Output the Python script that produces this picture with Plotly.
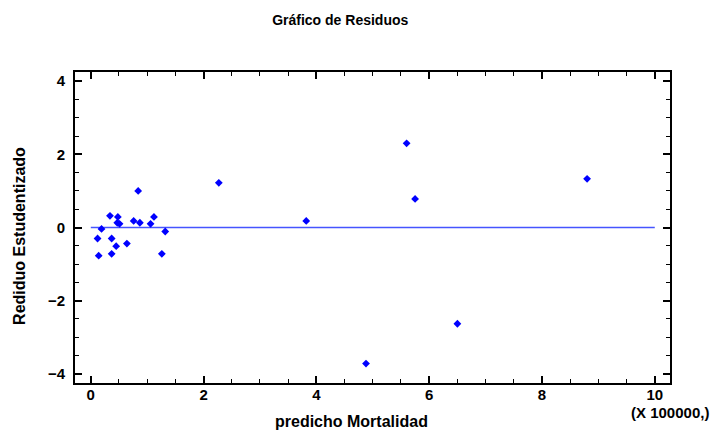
import plotly.graph_objects as go

# predicho Mortalidad (X 100000) and studentized residuals
predicho = [0.12, 0.14, 0.19, 0.34, 0.37, 0.37, 0.45, 0.48, 0.47, 0.51,
            0.64, 0.76, 0.84, 0.87, 1.06, 1.12, 1.26, 1.32, 2.27, 3.82,
            5.60, 5.75, 4.88, 6.50, 8.80]
residuo = [-0.30, -0.77, -0.04, 0.32, -0.30, -0.72, -0.51, 0.29, 0.13, 0.10,
           -0.44, 0.18, 1.00, 0.13, 0.10, 0.29, -0.72, -0.11, 1.22, 0.18,
           2.30, 0.78, -3.72, -2.63, 1.33]
linea_x = [0, 10]
linea_y = [0, 0]

fuente = "Liberation Sans, Arial, sans-serif"
negro = "black"

fig = go.Figure()

fig.add_trace(go.Scatter(x=linea_x, y=linea_y, mode="lines",
                         line=dict(color="rgb(70,85,255)", width=1.5),
                         hoverinfo="skip"))

fig.add_trace(go.Scatter(x=predicho, y=residuo, mode="markers",
                         marker=dict(symbol="diamond", size=6, color="rgb(0,0,255)")))

eje = dict(showline=True, linecolor=negro, linewidth=2, mirror="ticks",
           ticks="inside", ticklen=7, tickwidth=1.5, tickcolor=negro,
           showgrid=False, zeroline=False,
           tickfont=dict(family=fuente, size=15, color=negro, weight="bold"),
           minor=dict(ticks="inside", ticklen=4, tickwidth=1, tickcolor=negro, dtick=0.5))

fig.update_xaxes(eje, range=[-0.28, 10.27], tick0=0, dtick=2, ticklabelstandoff=-3)
fig.update_yaxes(eje, range=[-4.25, 4.25], tick0=0, dtick=2, ticklabelstandoff=5)

# titulos de ejes como anotaciones para ubicarlos como en la referencia
fig.add_annotation(text="predicho Mortalidad", xref="paper", yref="paper",
                   x=0.4655, y=-0.125, xanchor="center", yanchor="middle", showarrow=False,
                   font=dict(family=fuente, size=16, color=negro, weight="bold"))
fig.add_annotation(text="Rediduo Estudentizado", xref="paper", yref="paper",
                   x=-0.0924, y=0.473, xanchor="center", yanchor="middle", showarrow=False,
                   textangle=-90,
                   font=dict(family=fuente, size=16, color=negro, weight="bold"))
fig.add_annotation(text="(X 100000,)", xref="paper", yref="paper",
                   x=1.0, y=-0.094, xanchor="center", yanchor="middle", showarrow=False,
                   font=dict(family=fuente, size=15, color=negro, weight="bold"))

fig.update_layout(
    width=716, height=424,
    title=dict(text="Gráfico de Residuos", x=0.464, xanchor="center",
               y=0.972, yanchor="middle",
               font=dict(family=fuente, size=14, color=negro, weight="bold")),
    showlegend=False,
    plot_bgcolor="white", paper_bgcolor="white",
    margin=dict(l=67, r=54, t=64, b=49),
)

fig.write_html("out.html")
